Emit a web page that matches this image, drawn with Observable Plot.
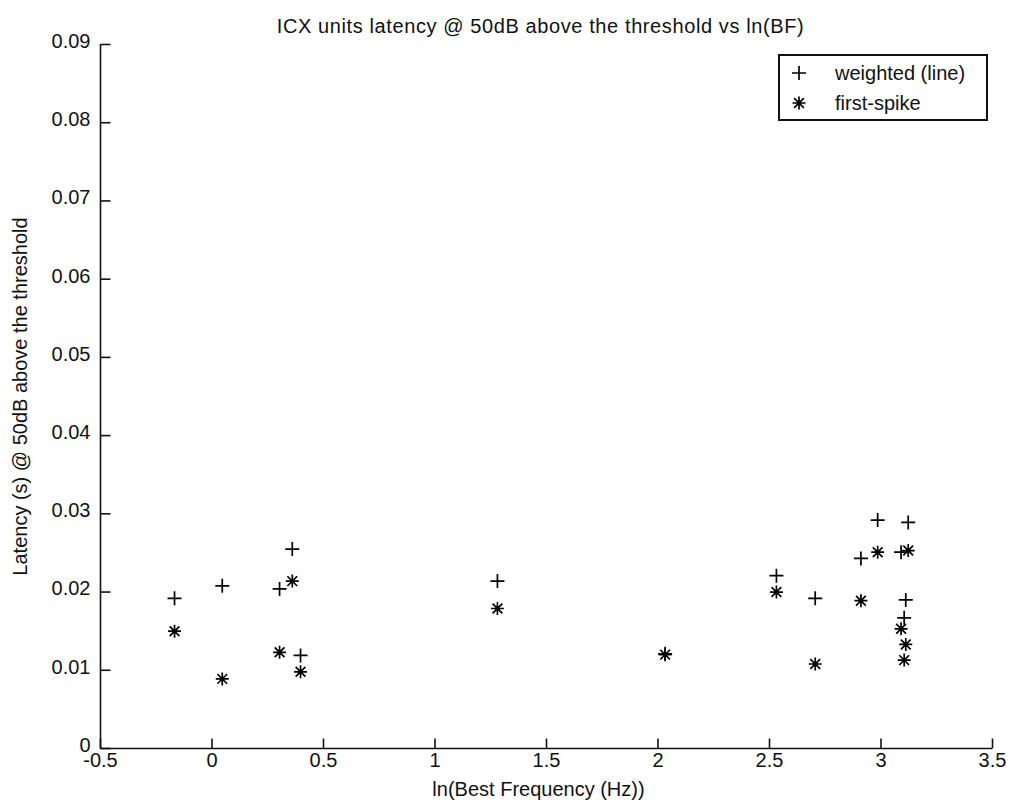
<!DOCTYPE html>
<html>
<head>
<meta charset="utf-8">
<script src="https://cdn.jsdelivr.net/npm/d3@7"></script>
<script src="https://cdn.jsdelivr.net/npm/@observablehq/plot@0.6"></script>
<style>
  html, body { margin: 0; padding: 0; background: #fff; }
  #wrap { position: relative; width: 1010px; height: 809px; font-family: "Liberation Sans", Arial, sans-serif; }
  #legend { position: absolute; left: 778px; top: 54px; width: 206px; height: 63px; border: 2px solid #111; background: #fff; box-sizing: content-box; }
  .row { position: absolute; left: 0; height: 30px; display: flex; align-items: center; font-size: 20px; color: #111; }
  .row svg { margin-left: 8px; margin-right: 25px; }
</style>
</head>
<body>
<div id="wrap"></div>
<script>
// ---- data ----
const bf =         [-0.168, 0.046, 0.303, 0.360, 0.397, 1.280, 2.032, 2.531, 2.705, 2.910, 2.985, 3.122, 3.090, 3.111, 3.104];
const weighted =   [0.0192, 0.0208, 0.0204, 0.0255, 0.0119, 0.0214, 0.0121, 0.0221, 0.0192, 0.0243, 0.0292, 0.0289, 0.0251, 0.0190, 0.0167];
const firstSpike = [0.0150, 0.0089, 0.0123, 0.0214, 0.0098, 0.0179, 0.0120, 0.0200, 0.0108, 0.0189, 0.0251, 0.0253, 0.0153, 0.0133, 0.0113];
const xTicks = [-0.5, 0, 0.5, 1, 1.5, 2, 2.5, 3, 3.5];
const xTickLabels = ["-0.5", "0", "0.5", "1", "1.5", "2", "2.5", "3", "3.5"];
const yTicks = [0, 0.01, 0.02, 0.03, 0.04, 0.05, 0.06, 0.07, 0.08, 0.09];
const yTickLabels = ["0", "0.01", "0.02", "0.03", "0.04", "0.05", "0.06", "0.07", "0.08", "0.09"];
const seriesNames = ["weighted (line)", "first-spike"];
const title = "ICX units latency @ 50dB above the threshold vs ln(BF)";
const xLabel = "ln(Best Frequency (Hz))";
const yLabel = "Latency (s) @ 50dB above the threshold";

const wData = bf.map((x, i) => ({x, y: weighted[i]}));
const fData = bf.map((x, i) => ({x, y: firstSpike[i]}));

// ---- symbols ----
const plusSym = {draw(ctx, size) { const r = Math.sqrt(size / Math.PI); ctx.moveTo(-r, 0); ctx.lineTo(r, 0); ctx.moveTo(0, -r); ctx.lineTo(0, r); }};
const starSym = {draw(ctx, size) { const r = Math.sqrt(size / Math.PI); const d = r * 0.75;
  ctx.moveTo(-r, 0); ctx.lineTo(r, 0); ctx.moveTo(0, -r); ctx.lineTo(0, r);
  ctx.moveTo(-d, -d); ctx.lineTo(d, d); ctx.moveTo(-d, d); ctx.lineTo(d, -d); }};
const tickUp = {draw(ctx) { ctx.moveTo(0, 0); ctx.lineTo(0, -10); }};
const tickRight = {draw(ctx) { ctx.moveTo(0, 0); ctx.lineTo(10, 0); }};

const font = "'Liberation Sans', Arial, sans-serif";

const chart = Plot.plot({
  width: 1010,
  height: 809,
  marginLeft: 100,
  marginRight: 18,
  marginTop: 44,
  marginBottom: 61,
  style: {fontFamily: font, fontSize: "20px", color: "#111", background: "#fff"},
  x: {domain: [-0.5, 3.5], axis: null},
  y: {domain: [0, 0.09], axis: null},
  marks: [
    Plot.ruleY([0], {stroke: "#111", strokeWidth: 1.6}),
    Plot.ruleX([-0.5], {stroke: "#111", strokeWidth: 1.6}),
    Plot.dot(xTicks, {x: d => d, y: 0, symbol: tickUp, r: 5, fill: "none", stroke: "#111", strokeWidth: 1.6}),
    Plot.dot(yTicks, {x: -0.5, y: d => d, symbol: tickRight, r: 5, fill: "none", stroke: "#111", strokeWidth: 1.6}),
    Plot.text(xTicks, {x: d => d, y: 0, text: (d, i) => xTickLabels[i], lineAnchor: "top", dy: 4, fill: "#111"}),
    Plot.text(yTicks, {x: -0.5, y: d => d, text: (d, i) => yTickLabels[i], textAnchor: "end", dx: -10, dy: -3, fill: "#111"}),
    Plot.dot(wData, {x: "x", y: "y", symbol: plusSym, r: 7, fill: "none", stroke: "#000", strokeWidth: 1.7}),
    Plot.dot(fData, {x: "x", y: "y", symbol: starSym, r: 6.5, fill: "none", stroke: "#000", strokeWidth: 1.7}),
    Plot.text([title], {frameAnchor: "top", dy: -26, dx: -6, text: d => d, fill: "#111", textAnchor: "middle", style: "letter-spacing: 0.6px"}),
    Plot.text([xLabel], {frameAnchor: "bottom", dy: 47, dx: -8, text: d => d, fill: "#111", textAnchor: "middle"}),
    Plot.text([yLabel], {frameAnchor: "left", dx: -80, rotate: -90, text: d => d, fill: "#111", textAnchor: "middle"})
  ]
});

const wrap = document.getElementById("wrap");
wrap.appendChild(chart);
chart.querySelectorAll("text").forEach(t => { if (t.textContent === title) t.setAttribute("letter-spacing", "0.6"); });

// legend
const legend = document.createElement("div");
legend.id = "legend";
const glyphs = [
  '<svg width="22" height="22" viewBox="-11 -11 22 22"><path d="M-7,0L7,0M0,-7L0,7" stroke="#000" stroke-width="1.7" fill="none"/></svg>',
  '<svg width="22" height="22" viewBox="-11 -11 22 22"><path d="M-6.5,0L6.5,0M0,-6.5L0,6.5M-4.9,-4.9L4.9,4.9M-4.9,4.9L4.9,-4.9" stroke="#000" stroke-width="1.7" fill="none"/></svg>'
];
seriesNames.forEach((name, i) => {
  const row = document.createElement("div");
  row.className = "row";
  row.style.top = (i === 0 ? 2 : 32) + "px";
  row.innerHTML = glyphs[i] + "<span>" + name + "</span>";
  legend.appendChild(row);
});
wrap.appendChild(legend);
</script>
</body>
</html>
